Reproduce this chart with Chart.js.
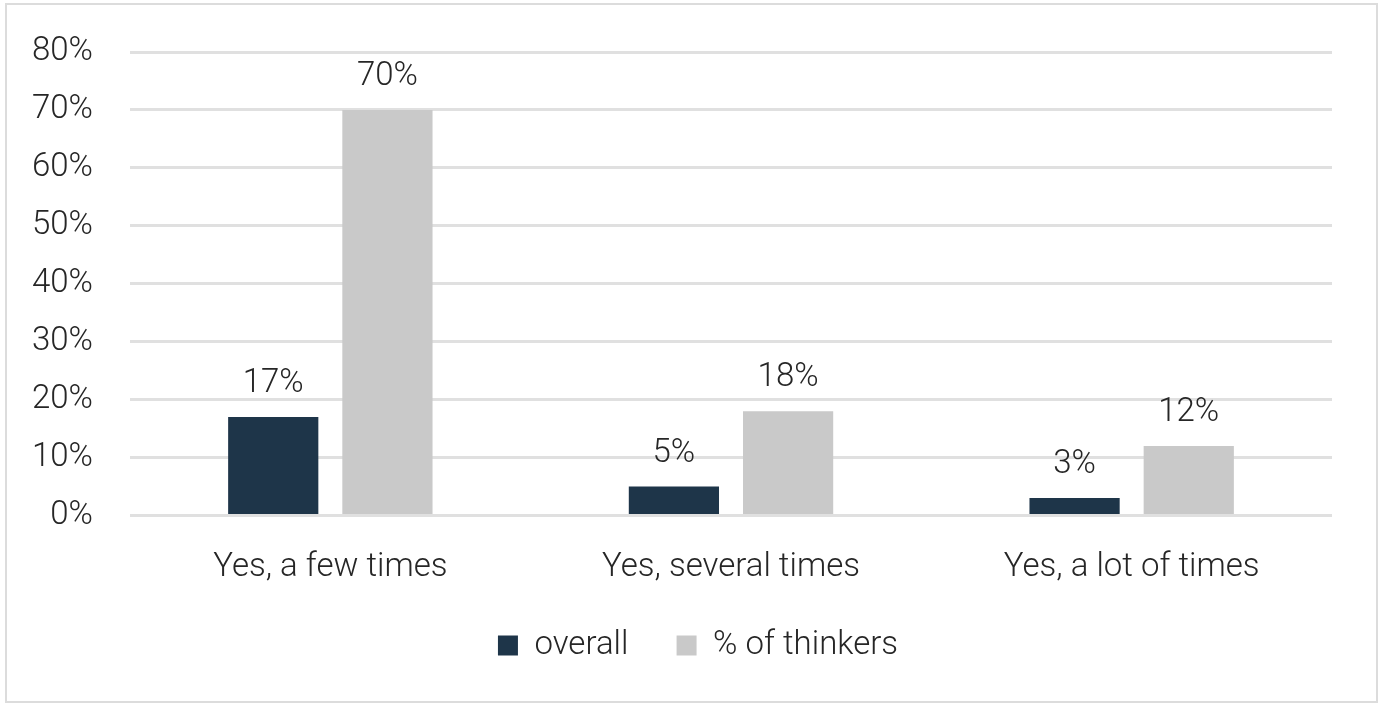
<!DOCTYPE html>
<html>
<head>
<meta charset="utf-8">
<script src="https://cdn.jsdelivr.net/npm/chart.js@4.4.1/dist/chart.umd.min.js"></script>
<style>
  html, body { margin: 0; padding: 0; background: #fff; }
  #frame {
    position: absolute;
    left: 5px; top: 3px;
    width: 1369px; height: 696px;
    border: 2px solid #dcdcdc;
    background: #fff;
  }
  #wrap { position: absolute; left: 0; top: 0; width: 1369px; height: 696px; }
</style>
</head>
<body>
<div id="frame"><div id="wrap"><canvas id="chart"></canvas></div></div>
<script>
const categories = ['Yes, a few times', 'Yes, several times', 'Yes, a lot of times'];
const seriesNames = ['overall', '% of thinkers'];
const overallValues = [17, 5, 3];
const thinkersValues = [70, 18, 12];
const yTicks = [0, 10, 20, 30, 40, 50, 60, 70, 80];

const FONT = 'Roboto';
const TEXT = '#262626';
const SIZE = 33;

// writes the value above each bar
const barLabels = {
  id: 'barLabels',
  afterDatasetsDraw(chart) {
    const ctx = chart.ctx;
    ctx.save();
    ctx.font = '300 ' + SIZE + 'px ' + FONT;
    ctx.fillStyle = TEXT;
    ctx.textAlign = 'center';
    ctx.textBaseline = 'middle';
    chart.data.datasets.forEach((ds, i) => {
      chart.getDatasetMeta(i).data.forEach((bar, j) => {
        ctx.fillText(ds.data[j] + '%', bar.x, bar.y - 33);
      });
    });
    ctx.restore();
  }
};

new Chart(document.getElementById('chart'), {
  type: 'bar',
  data: {
    labels: categories,
    datasets: [
      {
        label: seriesNames[0],
        data: overallValues,
        backgroundColor: '#1e3549',
        barPercentage: 0.79,
        categoryPercentage: 0.57
      },
      {
        label: seriesNames[1],
        data: thinkersValues,
        backgroundColor: '#c9c9c9',
        barPercentage: 0.79,
        categoryPercentage: 0.57
      }
    ]
  },
  options: {
    responsive: true,
    maintainAspectRatio: false,
    animation: false,
    layout: { padding: { top: 47, right: 12, left: 25, bottom: 29 } },
    scales: {
      x: {
        grid: { display: false },
        border: { display: false },
        afterFit: (scale) => { scale.paddingLeft = 0; scale.paddingRight = 0; },
        ticks: {
          color: TEXT,
          font: { family: FONT, size: SIZE, weight: 300 },
          padding: 25
        }
      },
      y: {
        min: 0,
        max: 80,
        afterBuildTicks: (scale) => {
          scale.ticks = yTicks.map(v => ({ value: v }));
        },
        afterFit: (scale) => {
          scale.width = 98;
          scale.paddingTop = 0;
          scale.paddingBottom = 0;
        },
        grid: { color: '#e0e0e0', lineWidth: 3, drawTicks: false },
        border: { display: false },
        ticks: {
          color: TEXT,
          font: { family: FONT, size: SIZE, weight: 300 },
          padding: 37,
          callback: (v) => v + '%'
        }
      },
      // empty margin on the right of the plot
      gutter: {
        position: 'right',
        grid: { display: false },
        border: { display: false },
        ticks: { display: false },
        afterFit: (scale) => {
          scale.width = 32;
          scale.paddingTop = 0;
          scale.paddingBottom = 0;
        }
      }
    },
    plugins: {
      legend: {
        position: 'bottom',
        labels: {
          color: TEXT,
          font: { family: FONT, size: SIZE, weight: 300 },
          boxWidth: 20,
          boxHeight: 20,
          padding: 16,
          generateLabels: (chart) => {
            const items = Chart.defaults.plugins.legend.labels.generateLabels(chart);
            items.forEach((it, i) => {
              if (i < items.length - 1) it.text += '    ';
            });
            return items;
          }
        }
      },
      tooltip: { enabled: false }
    }
  },
  plugins: [barLabels]
});
</script>
</body>
</html>
